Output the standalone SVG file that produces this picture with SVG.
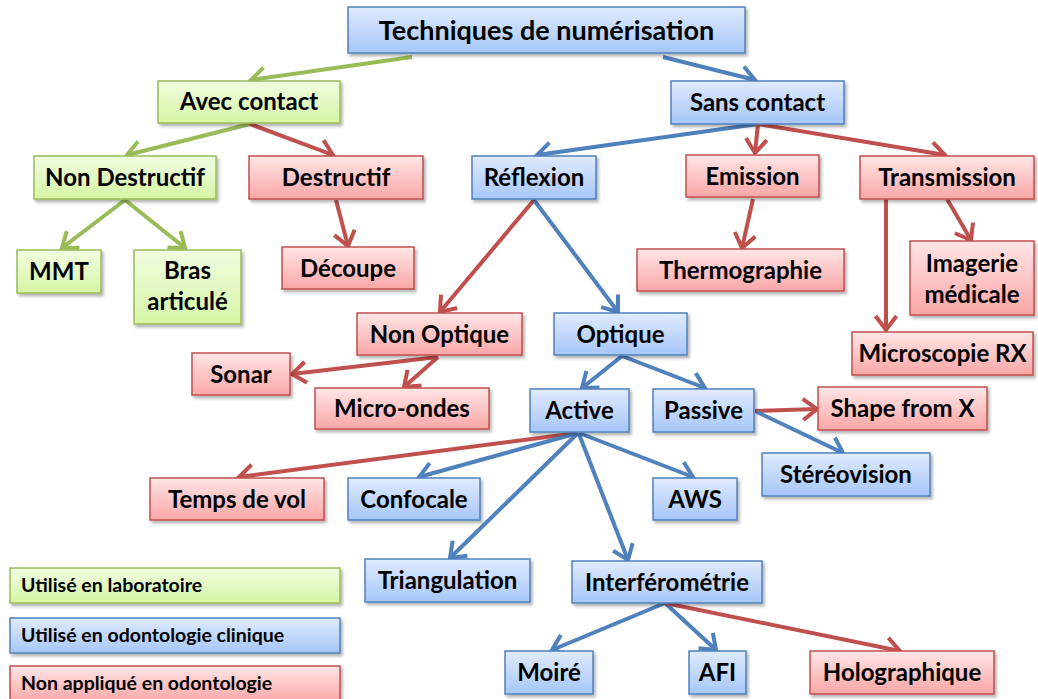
<svg xmlns="http://www.w3.org/2000/svg" width="1038" height="699" viewBox="0 0 1038 699">
<defs>
<linearGradient id="gG" x1="0" y1="0" x2="0" y2="1"><stop offset="0" stop-color="#F1FDE0"/><stop offset="1" stop-color="#D5F6A6"/></linearGradient>
<linearGradient id="gB" x1="0" y1="0" x2="0" y2="1"><stop offset="0" stop-color="#E0EBFD"/><stop offset="1" stop-color="#A6C6F8"/></linearGradient>
<linearGradient id="gR" x1="0" y1="0" x2="0" y2="1"><stop offset="0" stop-color="#FFE6E6"/><stop offset="1" stop-color="#FAA6A6"/></linearGradient>
<filter id="sh" x="-10%" y="-20%" width="125%" height="150%"><feDropShadow dx="2" dy="2.5" stdDeviation="1.5" flood-color="#000" flood-opacity="0.3"/></filter>
<marker id="aG" viewBox="-20 -15 28 30" refX="0" refY="0" markerWidth="28" markerHeight="30" markerUnits="userSpaceOnUse" orient="auto"><path d="M-14,-10.5 L0,0 L-14,10.5" fill="none" stroke="#9BBB59" stroke-width="4"/></marker>
<marker id="aB" viewBox="-20 -15 28 30" refX="0" refY="0" markerWidth="28" markerHeight="30" markerUnits="userSpaceOnUse" orient="auto"><path d="M-14,-10.5 L0,0 L-14,10.5" fill="none" stroke="#4F81BD" stroke-width="4"/></marker>
<marker id="aR" viewBox="-20 -15 28 30" refX="0" refY="0" markerWidth="28" markerHeight="30" markerUnits="userSpaceOnUse" orient="auto"><path d="M-14,-10.5 L0,0 L-14,10.5" fill="none" stroke="#C0504D" stroke-width="4"/></marker>
</defs>
<style>
.g rect{fill:url(#gG);stroke:#9BBB59;stroke-width:1.5;filter:url(#sh)}
.b rect{fill:url(#gB);stroke:#4F81BD;stroke-width:1.5;filter:url(#sh)}
.r rect{fill:url(#gR);stroke:#C0504D;stroke-width:1.5;filter:url(#sh)}
text{font-family:Lato,"Liberation Sans",sans-serif;font-weight:bold;font-size:24px;fill:#000;text-anchor:middle}
.t text{font-size:27px}
.lg text{font-size:19.5px;text-anchor:start}
.cG{stroke:#9BBB59;stroke-width:4;fill:none;marker-end:url(#aG)}
.cB{stroke:#4F81BD;stroke-width:4;fill:none;marker-end:url(#aB)}
.cR{stroke:#C0504D;stroke-width:4;fill:none;marker-end:url(#aR)}
</style>
<rect width="1038" height="699" fill="#fff"/>
<g id="connectors">
<line class="cG" x1="412" y1="57" x2="251" y2="80"/>
<line class="cB" x1="663" y1="57" x2="755" y2="80"/>
<line class="cG" x1="250" y1="124" x2="127" y2="155"/>
<line class="cR" x1="250" y1="124" x2="333" y2="155"/>
<line class="cG" x1="125" y1="200" x2="62" y2="248"/>
<line class="cG" x1="125" y1="200" x2="185" y2="248"/>
<line class="cR" x1="336" y1="200" x2="348" y2="246"/>
<line class="cB" x1="758" y1="124" x2="537" y2="155"/>
<line class="cR" x1="758" y1="124" x2="755" y2="153"/>
<line class="cR" x1="758" y1="124" x2="945" y2="155"/>
<line class="cR" x1="753" y1="199" x2="742" y2="248"/>
<line class="cR" x1="886" y1="199" x2="886" y2="330"/>
<line class="cR" x1="947" y1="199" x2="971" y2="240"/>
<line class="cR" x1="534" y1="200" x2="440" y2="312"/>
<line class="cB" x1="534" y1="200" x2="618" y2="312"/>
<line class="cR" x1="438" y1="357" x2="292" y2="374"/>
<line class="cR" x1="438" y1="357" x2="404" y2="387"/>
<line class="cB" x1="622" y1="356" x2="582" y2="388"/>
<line class="cB" x1="622" y1="356" x2="705" y2="388"/>
<line class="cR" x1="755" y1="411" x2="817" y2="409"/>
<line class="cB" x1="757" y1="412" x2="843" y2="453"/>
<line class="cR" x1="578" y1="433" x2="239" y2="477"/>
<line class="cB" x1="578" y1="433" x2="419" y2="477"/>
<line class="cB" x1="578" y1="433" x2="450" y2="558"/>
<line class="cB" x1="579" y1="434" x2="628" y2="560"/>
<line class="cB" x1="579" y1="433" x2="693" y2="477"/>
<line class="cB" x1="665" y1="603" x2="552" y2="650"/>
<line class="cB" x1="665" y1="603" x2="716" y2="650"/>
<line class="cR" x1="665" y1="603" x2="900" y2="651"/>
</g>
<g id="n-title" class="b t"><rect x="348" y="7" width="397" height="46"/><text x="546.5" y="40">Techniques de numérisation</text></g>
<g id="n-avec" class="g"><rect x="158" y="81" width="182" height="42"/><text x="249" y="110">Avec contact</text></g>
<g id="n-sans" class="b"><rect x="671" y="81" width="173" height="43"/><text x="757.5" y="111">Sans contact</text></g>
<g id="n-nondestructif" class="g"><rect x="34" y="156" width="182" height="43"/><text x="125" y="186">Non Destructif</text></g>
<g id="n-destructif" class="r"><rect x="249" y="156" width="174" height="43"/><text x="336" y="186">Destructif</text></g>
<g id="n-reflexion" class="b"><rect x="472" y="156" width="124" height="43"/><text x="534" y="186">Réflexion</text></g>
<g id="n-emission" class="r"><rect x="686" y="155" width="133" height="42"/><text x="752.5" y="185">Emission</text></g>
<g id="n-transmission" class="r"><rect x="860" y="156" width="174" height="43"/><text x="947" y="186">Transmission</text></g>
<g id="n-mmt" class="g"><rect x="17" y="250" width="84" height="43"/><text x="59" y="280">MMT</text></g>
<g id="n-bras" class="g"><rect x="134" y="250" width="107" height="74"/><text x="187.5" y="279">Bras</text><text x="187.5" y="310">articulé</text></g>
<g id="n-decoupe" class="r"><rect x="282" y="247" width="132" height="42"/><text x="348" y="277">Découpe</text></g>
<g id="n-thermo" class="r"><rect x="637" y="249" width="207" height="42"/><text x="740.5" y="279">Thermographie</text></g>
<g id="n-imagerie" class="r"><rect x="910" y="241" width="124" height="74"/><text x="972" y="272">Imagerie</text><text x="972" y="303">médicale</text></g>
<g id="n-nonoptique" class="r"><rect x="357" y="313" width="165" height="42"/><text x="439.5" y="343">Non Optique</text></g>
<g id="n-optique" class="b"><rect x="554" y="313" width="133" height="42"/><text x="620.5" y="343">Optique</text></g>
<g id="n-microrx" class="r"><rect x="852" y="332" width="181" height="43"/><text x="942.5" y="362">Microscopie RX</text></g>
<g id="n-sonar" class="r"><rect x="192" y="353" width="98" height="42"/><text x="241" y="383">Sonar</text></g>
<g id="n-microondes" class="r"><rect x="315" y="388" width="174" height="41"/><text x="402" y="417">Micro-ondes</text></g>
<g id="n-active" class="b"><rect x="530" y="389" width="99" height="43"/><text x="579.5" y="419">Active</text></g>
<g id="n-passive" class="b"><rect x="653" y="389" width="101" height="43"/><text x="703.5" y="419">Passive</text></g>
<g id="n-shape" class="r"><rect x="818" y="387" width="169" height="43"/><text x="902.5" y="417">Shape from X</text></g>
<g id="n-stereo" class="b"><rect x="762" y="453" width="168" height="43"/><text x="846" y="483">Stéréovision</text></g>
<g id="n-temps" class="r"><rect x="150" y="478" width="174" height="42"/><text x="237" y="508">Temps de vol</text></g>
<g id="n-confocale" class="b"><rect x="348" y="478" width="132" height="42"/><text x="414" y="508">Confocale</text></g>
<g id="n-aws" class="b"><rect x="653" y="478" width="84" height="42"/><text x="695" y="508">AWS</text></g>
<g id="n-triangulation" class="b"><rect x="365" y="559" width="165" height="43"/><text x="447.5" y="589">Triangulation</text></g>
<g id="n-interfero" class="b"><rect x="572" y="561" width="190" height="42"/><text x="667" y="591">Interférométrie</text></g>
<g id="n-moire" class="b"><rect x="505" y="651" width="88" height="43"/><text x="549" y="681">Moiré</text></g>
<g id="n-afi" class="b"><rect x="689" y="651" width="57" height="43"/><text x="717.5" y="681">AFI</text></g>
<g id="n-holo" class="r"><rect x="810" y="651" width="184" height="43"/><text x="902" y="681">Holographique</text></g>
<g id="legend" class="lg">
<g id="lg-labo" class="g"><rect x="10" y="568" width="330" height="35"/><text x="21" y="592">Utilisé en laboratoire</text></g>
<g id="lg-clin" class="b"><rect x="10" y="618" width="330" height="35"/><text x="21" y="642">Utilisé en odontologie clinique</text></g>
<g id="lg-non" class="r"><rect x="10" y="666" width="330" height="36"/><text x="21" y="690">Non appliqué en odontologie</text></g>
</g>
</svg>
